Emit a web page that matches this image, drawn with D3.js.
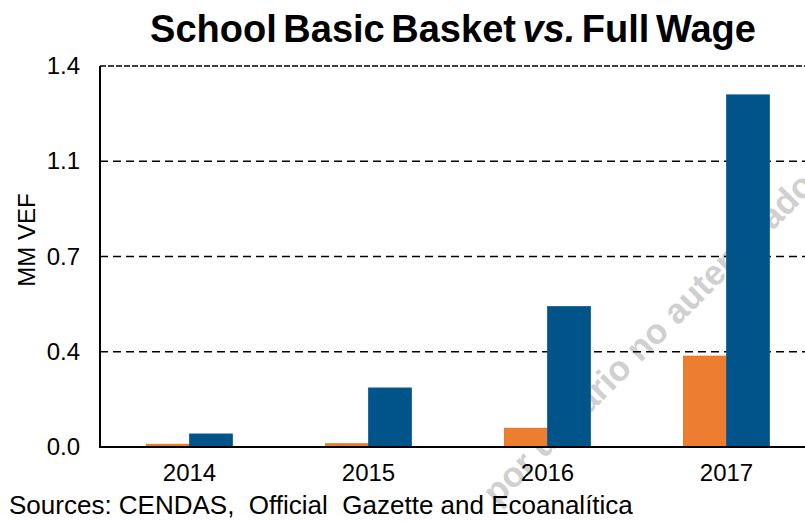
<!DOCTYPE html>
<html>
<head>
<meta charset="utf-8">
<script src="https://cdn.jsdelivr.net/npm/d3@7"></script>
<style>
  body { margin: 0; background: #fff; }
  svg { display: block; font-family: "Liberation Sans", Arial, sans-serif; }
</style>
</head>
<body>
<div id="chart"></div>
<script>
var years = ['2014', '2015', '2016', '2017'];
var seriesNames = ['School Basic Basket', 'Full Wage'];
var basketValues = [0.010, 0.012, 0.069, 0.334];
var wageValues = [0.048, 0.217, 0.516, 1.294];
var tickValues = [0, 0.35, 0.7, 1.05, 1.4];
var tickLabels = ['0.0', '0.4', '0.7', '1.1', '1.4'];
var colors = ['#ed7d31', '#00548a'];
var strokes = ['#e36c0a', '#0a5c94'];

var width = 805,
    height = 521,
    plotLeft = 100,
    plotTop = 66,
    plotBottom = 447,
    plotRight = 816;

var svg = d3.select('#chart').append('svg')
    .attr('width', width)
    .attr('height', height);

var x0 = d3.scaleBand()
    .domain(years)
    .range([plotLeft, plotRight])
    .paddingInner(0.52)
    .paddingOuter(0.26);

var x1 = d3.scaleBand()
    .domain(d3.range(seriesNames.length))
    .range([0, x0.bandwidth()]);

var y = d3.scaleLinear()
    .domain([0, 1.4])
    .range([plotBottom, plotTop]);

var rows = years.map(function(year, i) {
    return {year: year, values: [basketValues[i], wageValues[i]]};
});

// watermark, behind the marks
svg.append('text')
    .attr('transform', 'translate(648,338) rotate(-45)')
    .attr('text-anchor', 'middle')
    .attr('dominant-baseline', 'central')
    .style('font-size', '35px')
    .style('font-weight', 'bold')
    .style('fill', '#d0d0d0')
    .text('por usuario no autenticado');

// dashed gridlines
svg.append('g')
    .selectAll('line')
    .data(tickValues.slice(1))
    .enter()
    .append('line')
    .attr('x1', plotLeft)
    .attr('x2', width)
    .attr('y1', function(d) { return y(d); })
    .attr('y2', function(d) { return y(d); })
    .attr('stroke', '#000')
    .attr('stroke-width', 1.6)
    .attr('stroke-dasharray', function(d) { return d === 1.4 ? '6,2' : '8,5'; });

// bars
var group = svg.append('g')
    .selectAll('.group')
    .data(rows)
    .enter()
    .append('g')
    .attr('class', 'group')
    .attr('transform', function(d) { return 'translate(' + x0(d.year) + ',0)'; });

group.selectAll('rect')
    .data(function(d) { return d.values; })
    .enter()
    .append('rect')
    .attr('x', function(d, i) { return x1(i); })
    .attr('y', function(d) { return y(d); })
    .attr('width', x1.bandwidth())
    .attr('height', function(d) { return plotBottom - y(d); })
    .attr('fill', function(d, i) { return colors[i]; })
    .attr('stroke', function(d, i) { return strokes[i]; })
    .attr('stroke-width', 0.8);

// axes
var yAxis = d3.axisLeft(y)
    .tickValues(tickValues)
    .tickFormat(function(d, i) { return tickLabels[i]; })
    .tickSize(0)
    .tickPadding(20);

var yy = svg.append('g')
    .attr('transform', 'translate(' + plotLeft + ',0)')
    .call(yAxis);
yy.select('.domain').remove();
yy.selectAll('text')
    .style('font-size', '24px')
    .style('font-family', '"Liberation Sans", Arial, sans-serif')
    .attr('fill', '#000');

var xAxis = d3.axisBottom(x0)
    .tickSize(0)
    .tickPadding(17);

var xx = svg.append('g')
    .attr('transform', 'translate(0,' + plotBottom + ')')
    .call(xAxis);
xx.select('.domain').remove();
xx.selectAll('text')
    .style('font-size', '24px')
    .style('font-family', '"Liberation Sans", Arial, sans-serif')
    .attr('fill', '#000');

svg.append('line')
    .attr('x1', plotLeft).attr('x2', plotLeft)
    .attr('y1', plotTop).attr('y2', plotBottom)
    .attr('stroke', '#000').attr('stroke-width', 2);

svg.append('line')
    .attr('x1', plotLeft - 1).attr('x2', width)
    .attr('y1', plotBottom).attr('y2', plotBottom)
    .attr('stroke', '#000').attr('stroke-width', 2);

// title
var title = svg.append('text')
    .attr('x', 453)
    .attr('y', 42)
    .attr('text-anchor', 'middle')
    .style('font-size', '38px')
    .style('font-weight', 'bold')
    .style('word-spacing', '-4px');
title.append('tspan').text('School Basic Basket ');
title.append('tspan').style('font-style', 'italic').text('vs.');
title.append('tspan').text(' Full Wage');

// y label
svg.append('text')
    .attr('transform', 'translate(35,240) rotate(-90)')
    .attr('text-anchor', 'middle')
    .style('font-size', '24px')
    .text('MM VEF');

// sources
svg.append('text')
    .attr('x', 9)
    .attr('y', 514)
    .style('font-size', '26px')
    .style('white-space', 'pre')
    .text('Sources: CENDAS,  Official  Gazette and Ecoanalítica');
</script>
</body>
</html>
